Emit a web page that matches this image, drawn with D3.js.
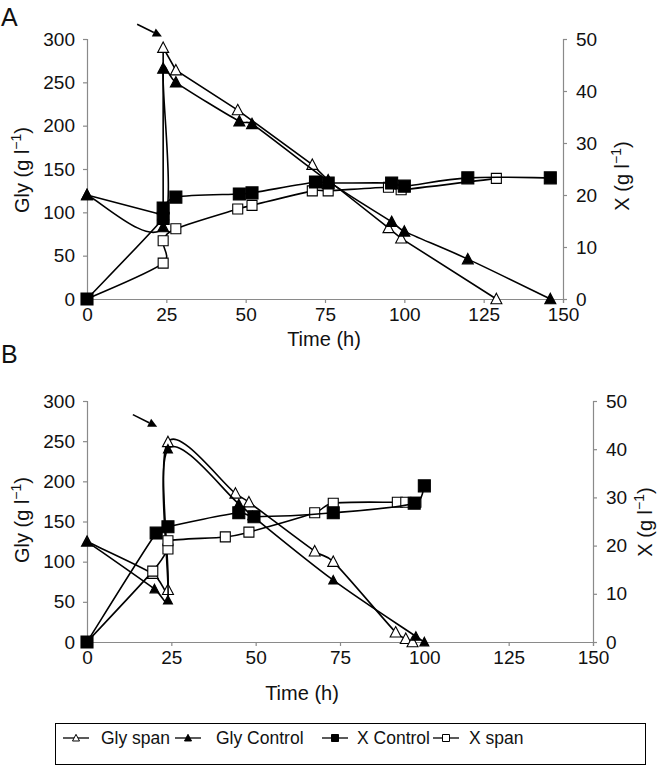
<!DOCTYPE html>
<html><head><meta charset="utf-8">
<script src="https://cdn.jsdelivr.net/npm/d3@7"></script>
<style>
body{margin:0;background:#fff}
text{font-family:"Liberation Sans",Arial,Helvetica,sans-serif;fill:#111}
</style>
</head><body>
<svg id="chart" width="661" height="767"></svg>
<script>
// ---------- data ----------
const timeTicks = [0, 25, 50, 75, 100, 125, 150];
const glyTicks = [0, 50, 100, 150, 200, 250, 300];
const bioTicks = [0, 10, 20, 30, 40, 50];
const seriesNames = ["Gly span", "Gly Control", "X Control", "X span"];

// Panel A
const aGlySpanT = [0, 24, 24, 28, 47.5, 71, 76, 95, 99, 129];
const aGlySpan  = [120, 97, 290, 264, 218, 155, 137, 82, 70, 0];
const aGlyCtrlT = [0, 24, 24, 28, 48, 52, 76, 96, 100, 120, 146];
const aGlyCtrl  = [120, 83, 266, 250, 205, 202, 136, 89, 78, 46, 0];
const aXCtrlT   = [0, 24, 24, 28, 48, 52, 72, 76, 96, 100, 120, 146];
const aXCtrl    = [0, 15.5, 17.5, 19.6, 20.2, 20.4, 22.5, 22.3, 22.3, 21.7, 23.3, 23.3];
const aXSpanT   = [0, 24, 24, 28, 47.5, 52, 71, 76, 95, 99, 129];
const aXSpan    = [0, 6.9, 11.2, 13.5, 17.3, 18, 20.8, 20.8, 21.5, 21, 23.2];

// Panel B
const bGlySpanT = [0, 19.5, 24, 24, 44, 48, 67.5, 73, 91.5, 94.5, 96.5];
const bGlySpan  = [125, 85, 65, 249, 185, 174, 113, 100, 12, 4, 0];
const bGlyCtrlT = [0, 20, 24, 24, 45, 49, 73, 97.5, 100];
const bGlyCtrl  = [125, 66, 52, 240, 172, 157, 77, 7, 0];
const bXCtrlT   = [0, 20.5, 24, 45, 49.5, 73, 97, 100];
const bXCtrl    = [0, 22.6, 23.9, 26.8, 26, 26.8, 28.8, 32.4];
const bXSpanT   = [0, 19.5, 24, 24, 41, 48, 67.5, 73, 92, 94.5, 97.5];
const bXSpan    = [0, 14.7, 19.3, 21, 21.8, 22.8, 26.8, 28.8, 29, 29, 29];

// arrows (data units: time, gly)
const aArrow = [[15.8, 317], [23.6, 303]];
const bArrow = [[13.6, 283], [20.8, 268]];

// ---------- Excel-like smoothed curve (Bezier, 1/6 tangents, clamped to half segment) ----------
function ExcelSmooth(context) { this._context = context; }
ExcelSmooth.prototype = {
  areaStart() {}, areaEnd() {},
  lineStart() { this._pts = []; },
  point(x, y) { this._pts.push([+x, +y]); },
  lineEnd() {
    const p = this._pts, c = this._context;
    if (!p.length) return;
    c.moveTo(p[0][0], p[0][1]);
    const dist = (a, b) => Math.hypot(b[0] - a[0], b[1] - a[1]);
    for (let i = 0; i < p.length - 1; i++) {
      const P0 = p[i - 1] || p[i], P1 = p[i], P2 = p[i + 1], P3 = p[i + 2] || p[i + 1];
      const seg = dist(P1, P2);
      const t1 = [P2[0] - P0[0], P2[1] - P0[1]], t2 = [P3[0] - P1[0], P3[1] - P1[1]];
      let f1 = 1 / 6, f2 = 1 / 6;
      const l1 = Math.hypot(t1[0], t1[1]), l2 = Math.hypot(t2[0], t2[1]);
      if (l1 * f1 > seg / 2) f1 = seg / (2 * l1);
      if (l2 * f2 > seg / 2) f2 = seg / (2 * l2);
      c.bezierCurveTo(P1[0] + t1[0] * f1, P1[1] + t1[1] * f1,
                      P2[0] - t2[0] * f2, P2[1] - t2[1] * f2, P2[0], P2[1]);
    }
  }
};
const curveExcel = ctx => new ExcelSmooth(ctx);

// ---------- drawing ----------
const svg = d3.select("#chart");
const AXIS = "#8a8a8a";

function markerPath(type, s) {
  if (type.startsWith("tri")) {
    const h = s * 0.95;
    return `M0,${-h * 0.55}L${s / 2},${h * 0.45}L${-s / 2},${h * 0.45}Z`;
  }
  return `M${-s / 2},${-s / 2}h${s}v${s}h${-s}Z`;
}

function zip(t, v) { return t.map((d, i) => ({ t: d, v: v[i] })); }

function panel(cfg) {
  const g = svg.append("g");
  const x = d3.scaleLinear().domain([0, 150]).range([cfg.left, cfg.right]);
  const yG = d3.scaleLinear().domain([0, 300]).range([cfg.bottom, cfg.top]);
  const yX = d3.scaleLinear().domain([0, 50]).range([cfg.bottom, cfg.top]);

  const styleAxis = sel => {
    sel.selectAll("path,line").attr("stroke", AXIS).attr("stroke-width", 1.2);
    sel.selectAll("text").attr("font-size", 19).attr("fill", "#111")
      .attr("font-family", '"Liberation Sans",Arial,sans-serif');
  };
  g.append("g").attr("transform", `translate(0,${cfg.bottom})`)
    .call(d3.axisBottom(x).tickValues(timeTicks).tickSizeOuter(0).tickSize(4).tickPadding(5))
    .call(styleAxis);
  g.append("g").attr("transform", `translate(${cfg.left},0)`)
    .call(d3.axisLeft(yG).tickValues(glyTicks).tickSizeOuter(0).tickSize(4).tickPadding(8))
    .call(styleAxis);
  g.append("g").attr("transform", `translate(${cfg.right},0)`)
    .call(d3.axisRight(yX).tickValues(bioTicks).tickSizeOuter(0).tickSize(4).tickPadding(9))
    .call(styleAxis);

  // titles
  const yTitle = (px, py, label) => {
    const t = g.append("text").attr("transform", `translate(${px},${py}) rotate(-90)`)
      .attr("text-anchor", "middle").attr("font-size", 20);
    t.append("tspan").text(label + " (g l");
    t.append("tspan").attr("dy", -8).attr("font-size", 14).text("\u22121");
    t.append("tspan").attr("dy", 8).text(")");
  };
  yTitle(cfg.lTitle[0], cfg.lTitle[1], "Gly");
  yTitle(cfg.rTitle[0], cfg.rTitle[1], "X");
  g.append("text").attr("x", cfg.tTitle[0]).attr("y", cfg.tTitle[1]).attr("text-anchor", "middle")
    .attr("font-size", 20).text("Time (h)");
  g.append("text").attr("x", cfg.letter[0]).attr("y", cfg.letter[1]).attr("font-size", 25).text(cfg.name);

  // series
  cfg.series.forEach(s => {
    const ys = s.axis === "gly" ? yG : yX;
    const pts = zip(s.t, s.v);
    const line = d3.line().x(d => x(d.t)).y(d => ys(d.v))
      .curve(s.smooth ? curveExcel : d3.curveLinear);
    g.append("path").datum(pts).attr("d", line).attr("fill", "none")
      .attr("stroke", "#000").attr("stroke-width", 1.6);
    g.selectAll(null).data(pts).enter().append("path")
      .attr("transform", d => `translate(${x(d.t)},${ys(d.v)})`)
      .attr("d", markerPath(s.marker, s.size))
      .attr("fill", s.marker.endsWith("Open") ? "#fff" : "#000")
      .attr("stroke", "#000").attr("stroke-width", 1.1);
  });

  // arrow
  const [p0, p1] = cfg.arrow;
  const x0 = x(p0[0]), y0 = yG(p0[1]), x1 = x(p1[0]), y1 = yG(p1[1]);
  const ang = Math.atan2(y1 - y0, x1 - x0);
  const hl = 9, hw = 4.5;
  const bx = x1 - hl * Math.cos(ang), by = y1 - hl * Math.sin(ang);
  g.append("line").attr("x1", x0).attr("y1", y0).attr("x2", bx).attr("y2", by)
    .attr("stroke", "#000").attr("stroke-width", 1.6);
  g.append("path").attr("d",
    `M${x1},${y1}L${bx + hw * Math.sin(ang)},${by - hw * Math.cos(ang)}L${bx - hw * Math.sin(ang)},${by + hw * Math.cos(ang)}Z`)
    .attr("fill", "#000");
}

panel({
  name: "A", letter: [1, 26], left: 87, right: 563, top: 39, bottom: 299,
  lTitle: [29, 170], rTitle: [629, 176], tTitle: [324, 346],
  arrow: aArrow,
  series: [
    { t: aGlySpanT, v: aGlySpan, axis: "gly", marker: "triOpen", size: 11, smooth: false },
    { t: aGlyCtrlT, v: aGlyCtrl, axis: "gly", marker: "triFilled", size: 11, smooth: true },
    { t: aXSpanT, v: aXSpan, axis: "x", marker: "sqOpen", size: 10, smooth: true },
    { t: aXCtrlT, v: aXCtrl, axis: "x", marker: "sqFilled", size: 12, smooth: true }
  ]
});
panel({
  name: "B", letter: [1, 363], left: 87, right: 593, top: 401, bottom: 642,
  lTitle: [29, 520], rTitle: [652, 522], tTitle: [302, 700],
  arrow: bArrow,
  series: [
    { t: bGlySpanT, v: bGlySpan, axis: "gly", marker: "triOpen", size: 11, smooth: true },
    { t: bGlyCtrlT, v: bGlyCtrl, axis: "gly", marker: "triFilled", size: 9, smooth: true },
    { t: bXSpanT, v: bXSpan, axis: "x", marker: "sqOpen", size: 10, smooth: true },
    { t: bXCtrlT, v: bXCtrl, axis: "x", marker: "sqFilled", size: 12, smooth: true }
  ]
});

// legend
const legendTypes = ["triOpen", "triFilled", "sqFilled", "sqOpen"];
const legendLineX = [63, 175, 322, 433];
const legendTextX = [101, 216, 357, 469];
const lg = svg.append("g");
lg.append("rect").attr("x", 55.5).attr("y", 723.5).attr("width", 590).attr("height", 41)
  .attr("fill", "#fff").attr("stroke", "#000").attr("stroke-width", 1);
seriesNames.forEach((n, i) => {
  const lx = legendLineX[i], ly = 738;
  lg.append("line").attr("x1", lx).attr("x2", lx + 26).attr("y1", ly).attr("y2", ly)
    .attr("stroke", "#000").attr("stroke-width", 1.3);
  lg.append("path").attr("transform", `translate(${lx + 13},${ly})`)
    .attr("d", markerPath(legendTypes[i], 7))
    .attr("fill", legendTypes[i].endsWith("Open") ? "#fff" : "#000").attr("stroke", "#000");
  lg.append("text").attr("x", legendTextX[i]).attr("y", ly + 6).attr("font-size", 17.5).text(n);
});
</script>
</body></html>
